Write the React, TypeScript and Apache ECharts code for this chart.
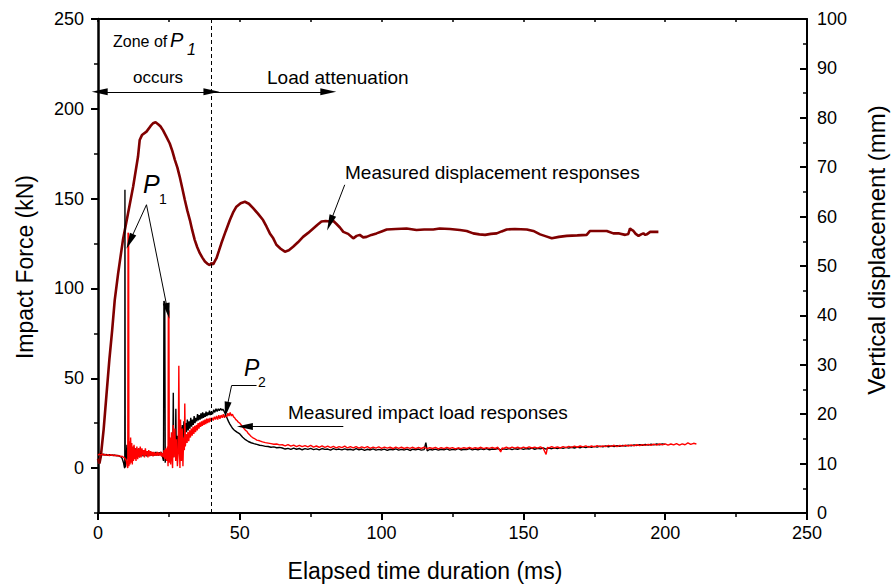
import React, { useEffect, useRef } from 'react';
import * as echarts from 'echarts';

const FONT = '"Liberation Sans", Arial, Helvetica, sans-serif';

// Axis ticks
const forceMajorTicks = [0, 50, 100, 150, 200, 250];

// Displacement (ms, mm) – right axis
const displacement: number[][] = [
  [0, 11], [0.5, 10], [1, 11.5], [2, 17], [3, 24], [4, 31], [5, 37], [5.9, 43.1], [7.1, 48.5], [8.8, 55.3],
  [10.6, 60.7], [12.4, 66.1], [14.1, 72.1], [14.7, 75.5], [15.5, 76.5], [17.1, 77.2], [18.5, 78.3], [19.4, 78.9],
  [20.3, 79.1], [21.2, 78.7], [22.0, 78.3], [22.9, 77.5], [24.0, 76.3], [25.3, 74.8], [26.2, 73.3], [27.1, 71.5],
  [28.0, 69.9], [28.8, 68.1], [29.7, 65.8], [30.6, 63.4], [31.5, 61.2], [32.4, 59.3], [33.2, 57.3], [34.1, 55.3],
  [35.0, 53.8], [35.9, 52.6], [36.8, 51.7], [37.7, 50.9], [38.5, 50.5], [39.4, 50.2], [40.0, 50.6], [40.6, 50.3],
  [41.2, 51.0], [41.8, 51.6], [42.6, 53.0], [43.5, 54.6], [45.0, 57.0], [46.5, 59.3], [47.6, 60.8], [48.8, 62.0],
  [50.3, 62.7], [51.8, 63.0], [53.2, 62.6], [54.7, 61.7], [56.4, 60.6], [58.2, 59.3], [59.4, 58.0], [60.6, 56.6],
  [61.8, 55.6], [62.9, 54.3], [64.4, 53.5], [65.9, 52.9], [67.3, 53.2], [68.8, 53.9], [70.5, 54.8], [72.3, 55.9],
  [74.1, 56.7], [75.9, 57.6], [77.3, 58.3], [78.8, 59.0], [80.3, 59.1], [81.8, 59.0], [83.0, 59.1], [84.1, 58.5],
  [85.3, 57.8], [86.5, 56.9], [88.2, 56.5], [90.0, 55.6], [91.2, 56.1], [92.3, 56.3], [93.5, 55.8], [94.7, 55.9],
  [96.4, 56.3], [98.2, 56.6], [100.0, 57.0], [101.8, 57.4], [105, 57.5], [108.8, 57.6], [112.3, 57.3], [115, 57.4],
  [118.2, 57.4], [120.5, 57.6], [124.1, 57.5], [127.6, 57.3], [130, 57.1], [132.3, 56.6], [134.5, 56.4],
  [136.5, 56.3], [138.5, 56.5], [140.6, 56.6], [142.3, 57.0], [144.1, 57.4], [147, 57.5], [151.2, 57.4],
  [153.5, 57.1], [155.9, 56.4], [158, 56.0], [160.0, 55.6], [162.5, 55.9], [165.3, 56.1], [169, 56.2],
  [172.3, 56.3], [173.5, 57.1], [176, 57.1], [179.4, 57.1], [181.7, 56.6], [183.8, 56.6], [185.9, 56.3],
  [187.0, 56.5], [187.6, 57.6], [188.2, 57.3], [188.8, 57.1], [189.6, 56.5], [190.6, 56.1], [191.5, 56.4],
  [192.3, 56.6], [193.0, 56.3], [193.5, 56.4], [194.7, 56.9], [196, 56.9], [197.6, 56.9],
];

// Impact load, test 1 (black), (ms, kN) – left axis
const forceBlackEarly: number[][] = [
  [0, 8], [0.5, 7.6], [1, 8.1], [1.5, 7.4], [2, 7.8], [2.5, 7.2], [3, 7.6], [3.5, 7.0], [4, 7.5], [4.5, 7.1],
  [5, 7.4], [5.5, 6.9], [6, 7.3], [6.5, 6.8], [7, 7.1], [7.5, 6.6], [8, 6.4], [8.5, 5.5], [9, 3], [9.3, 0.5],
  [9.45, 0], [9.5, 155], [9.6, 0.5], [9.9, 4], [10.2, 13], [10.5, 5], [10.8, 12], [11.1, 6], [11.4, 11], [11.7, 5],
  [12, 10], [12.3, 6], [12.6, 12], [12.9, 7], [13.2, 11], [13.5, 6], [13.8, 10], [14.1, 7], [14.4, 11], [14.7, 6],
  [15, 10], [15.3, 7], [15.6, 9.5], [15.9, 6.5], [16.2, 10], [16.5, 7], [16.8, 9], [17.1, 6.5], [17.4, 9.5],
  [17.7, 7], [18, 9], [18.3, 6.8], [18.6, 9.2], [18.9, 7], [19.2, 8.8], [19.5, 6.8], [19.8, 8.5], [20.1, 7],
  [20.4, 9], [20.7, 7.2], [21, 8.6], [21.3, 7], [21.6, 8.8], [21.9, 7.2], [22.2, 9], [22.5, 7], [22.8, 6],
  [23.1, 4], [23.25, 93], [23.55, 92], [23.7, 3], [24, 9], [24.3, 6], [24.6, 11], [24.9, 5], [25.2, 13], [25.5, 4],
  [25.8, 14], [26.1, 8], [26.4, 12], [26.55, 42], [26.7, 6], [27, 16], [27.3, 10], [27.45, 33], [27.6, 8],
  [27.9, 18], [28.2, 10], [28.5, 21], [28.8, 12], [29.1, 23], [29.4, 14], [29.7, 24], [30, 16], [30.3, 26],
  [30.6, 18], [30.9, 25], [31.2, 20], [31.5, 27], [31.8, 21], [32.1, 26], [32.4, 22], [32.7, 28], [33, 23],
  [33.3, 27], [33.6, 24], [33.9, 29], [34.2, 25], [34.5, 28], [34.8, 26], [35.1, 30], [35.4, 26.5], [35.7, 29.5],
  [36, 27], [36.3, 30.5], [36.6, 27.5], [36.9, 31], [37.2, 28], [37.5, 30.5], [37.8, 28.5], [38.1, 31.5],
  [38.4, 29], [38.7, 31], [39, 29.5], [39.3, 32], [39.6, 29.5], [40, 31.5], [40.4, 30], [40.8, 32.5], [41.2, 31],
  [41.6, 33], [42, 31.5], [42.4, 33], [42.8, 32], [43.2, 33.2], [43.6, 32.2], [44, 32.8], [44.4, 31.8],
  [44.8, 30.5], [45.2, 29], [45.6, 27.5], [46, 26], [46.5, 24.5], [47, 23.2], [47.5, 22], [48, 21.2],
  [48.5, 20.6], [49, 20], [50, 19], [51, 17.2], [52, 15.8], [53, 14.8], [54, 14.1], [55, 13.6], [56, 13.2],
  [57, 12.7], [58, 12.5], [59, 12.1], [60, 12.0], [61, 11.6], [62, 11.8], [63, 11.3], [64, 11.5],
];

const forceBlackLate: number[][] = [
  [65, 11.2], [66, 10.6], [67, 11.0], [68, 10.4], [69, 11.1], [70, 10.5], [71, 10.9], [72, 10.2], [73, 10.8],
  [74, 10.4], [75, 11.0], [76, 10.3], [77, 10.7], [78, 10.1], [79, 10.9], [80, 10.4], [81, 10.6], [82, 10.0],
  [83, 10.8], [84, 10.3], [85, 10.6], [86, 10.1], [87, 10.7], [88, 10.2], [89, 10.5], [90, 10.0], [91, 10.8],
  [92, 10.2], [93, 10.6], [94, 9.9], [95, 10.5], [96, 10.1], [97, 10.7], [98, 10.0], [99, 10.4], [100, 10.1],
  [101, 10.6], [102, 9.9], [103, 10.5], [104, 10.2], [105, 10.7], [106, 10.0], [107, 10.4], [108, 10.1],
  [109, 10.6], [110, 9.8], [111, 10.5], [112, 10.2], [113, 10.6], [114, 10.0], [115, 10.3], [115.6, 14.2],
  [116.1, 9.6], [117, 10.5], [118, 10.1], [119, 10.6], [120, 10.0], [121, 10.5], [122, 10.2], [123, 10.7],
  [124, 10.0], [125, 10.4], [126, 10.2], [127, 10.8], [128, 10.1], [129, 10.5], [130, 10.3], [131, 10.8],
  [132, 10.1], [133, 10.6], [134, 10.2], [135, 10.7], [136, 10.3], [137, 10.8], [138, 10.2], [139, 10.6],
  [140, 10.4], [141, 10.9], [142, 10.2], [143, 10.7], [144, 10.4], [145, 10.9], [146, 10.3], [147, 10.8],
  [148, 10.5], [149, 11.0], [150, 10.4], [151, 10.9], [152, 10.6], [153, 11.1], [154, 10.5], [155, 11.0],
  [156, 10.7], [157, 11.2], [158, 10.6], [159, 11.1], [160, 10.8], [161, 11.3], [162, 10.9], [163, 11.4],
  [164, 11.0], [165, 11.5], [166, 11.1], [167, 11.6], [168, 11.2], [169, 11.7], [170, 11.3], [171, 11.9],
  [172, 11.4], [173, 12.0], [174, 11.6], [175, 12.1], [176, 11.7], [177, 12.2], [178, 11.8], [179, 12.3],
  [180, 11.9], [181, 12.4], [182, 12.0], [183, 12.5], [184, 12.1], [185, 12.6], [186, 12.3], [187, 12.8],
  [188, 12.4], [189, 12.9], [190, 12.6], [191, 13.1], [192, 12.7], [193, 13.2], [194, 12.8], [195, 13.3],
  [196, 12.9], [197, 13.4], [198, 13.0], [199, 13.5], [200, 13.2],
];

// Impact load, test 2 (red), (ms, kN) – left axis
const forceRedEarly: number[][] = [
  [0, 7.2], [0.5, 7.9], [1, 7.3], [1.5, 8.0], [2, 7.1], [2.5, 7.7], [3, 7.0], [3.5, 7.6], [4, 6.9], [4.5, 7.5],
  [5, 7.0], [5.5, 7.4], [6, 6.8], [6.5, 7.2], [7, 6.6], [7.5, 7.0], [8, 6.4], [8.5, 6.6], [9, 6.0], [9.5, 5.5],
  [10, 4], [10.3, 1], [10.5, 0], [10.6, 131], [10.8, 130], [10.9, 1], [11.1, 15], [11.3, 2], [11.5, 17],
  [11.7, 3], [11.9, 14], [12.1, 2], [12.3, 12], [12.5, 4], [12.7, 13], [12.9, 5], [13.1, 11], [13.4, 4],
  [13.7, 12], [14, 5], [14.3, 11], [14.6, 6], [14.9, 12], [15.2, 6], [15.5, 11], [15.8, 7], [16.1, 10],
  [16.4, 6], [16.7, 11], [17, 7], [17.3, 9.5], [17.6, 6], [17.9, 10], [18.2, 6.5], [18.5, 9.5], [18.8, 7],
  [19.1, 9], [19.4, 6.5], [19.7, 9], [20, 7], [20.3, 8.5], [20.6, 6.8], [20.9, 9], [21.2, 7], [21.5, 8.5],
  [21.8, 7], [22.1, 9], [22.4, 6.5], [22.7, 8.5], [23, 6], [23.3, 10], [23.6, 5], [23.9, 11], [24.2, 4],
  [24.5, 12], [24.7, 1], [24.8, 88], [25, 87], [25.15, 3], [25.4, 17], [25.6, 2], [25.9, 20], [26.1, 5],
  [26.3, 0], [26.5, 24], [26.8, 6], [27.1, 22], [27.4, 4], [27.7, 16], [28, 1], [28.3, 9], [28.5, 57],
  [28.7, 12], [28.9, 0], [29.1, 27], [29.4, 4], [29.7, 22], [29.95, 1], [30.2, 17], [30.45, 10], [30.6, 36],
  [30.8, 12], [31.1, 19], [31.4, 14], [31.7, 20], [32, 15], [32.3, 21], [32.6, 17], [32.9, 22], [33.2, 18],
  [33.5, 23], [33.8, 19], [34.1, 23.5], [34.4, 20], [34.7, 24], [35, 21], [35.3, 25], [35.6, 22], [35.9, 25.5],
  [36.2, 23], [36.5, 26], [36.8, 23.5], [37.1, 26.5], [37.4, 24], [37.7, 27], [38, 24.5], [38.3, 27.5],
  [38.6, 25], [38.9, 27.5], [39.2, 25.5], [39.5, 28], [39.8, 26], [40.2, 28], [40.6, 26.5], [41, 28.5],
  [41.4, 27], [41.8, 29], [42.2, 27], [42.6, 29.5], [43, 27.5], [43.4, 29.5], [43.8, 28], [44.2, 30],
  [44.6, 28], [45, 29.5], [45.4, 28.5], [45.8, 30.5], [46.2, 29], [46.6, 31], [47, 29], [47.4, 30],
  [47.8, 28.5], [48.2, 28], [48.6, 27], [49, 26.5], [49.5, 25.5], [50, 25], [50.5, 24], [51, 23], [51.5, 22],
  [52, 21], [52.5, 20.5], [53, 19.2], [53.5, 18.5], [54, 17.6], [54.5, 17], [55, 16.6], [56, 15.6], [57, 15.2],
  [58, 14.6], [59, 14.2], [60, 13.9], [61, 13.6], [62, 13.3], [63, 13.4], [64, 12.9],
];

const forceRedLate: number[][] = [
  [65, 13.0], [66, 12.4], [67, 13.1], [68, 12.2], [69, 12.8], [70, 12.0], [71, 12.7], [72, 11.9], [73, 12.5],
  [74, 11.8], [75, 12.6], [76, 11.7], [77, 12.3], [78, 11.6], [79, 12.4], [80, 11.5], [81, 12.2], [82, 11.4],
  [83, 12.1], [84, 11.3], [85, 12.0], [86, 11.4], [87, 12.2], [88, 11.2], [89, 11.9], [90, 11.3], [91, 12.0],
  [92, 11.1], [93, 11.8], [94, 11.2], [95, 11.9], [96, 11.0], [97, 11.7], [98, 11.1], [99, 11.8], [100, 11.0],
  [101, 11.7], [102, 11.1], [103, 11.6], [104, 10.9], [105, 11.7], [106, 11.0], [107, 11.6], [108, 10.9],
  [109, 11.5], [110, 11.0], [111, 11.6], [112, 10.8], [113, 11.5], [114, 10.9], [115, 11.6], [116, 10.8],
  [117, 11.4], [118, 10.9], [119, 11.5], [120, 10.7], [121, 11.4], [122, 10.8], [123, 11.5], [124, 10.9],
  [125, 11.4], [126, 10.7], [127, 11.3], [128, 10.8], [129, 11.4], [130, 10.9], [131, 11.5], [132, 10.8],
  [133, 11.4], [134, 10.9], [135, 11.6], [136, 10.8], [137, 11.4], [138, 11.0], [139, 11.5], [140, 10.9],
  [141, 11.6], [142, 9.0], [142.5, 11.2], [143, 10.9], [144, 11.6], [145, 11.0], [146, 11.7], [147, 11.1],
  [148, 11.6], [149, 11.0], [150, 11.7], [151, 11.1], [152, 11.8], [153, 11.2], [154, 11.7], [155, 11.1],
  [156, 11.8], [157, 11.0], [158, 7.6], [158.5, 11.6], [159, 11.2], [160, 11.9], [161, 11.3], [162, 11.8],
  [163, 11.2], [164, 12.0], [165, 11.4], [166, 12.1], [167, 11.5], [168, 12.2], [169, 11.6], [170, 12.3],
  [171, 11.8], [172, 12.4], [173, 11.7], [174, 12.3], [175, 11.8], [176, 12.5], [177, 11.9], [178, 12.4],
  [179, 12.0], [180, 12.6], [181, 12.1], [182, 12.7], [183, 12.0], [184, 12.6], [185, 12.2], [186, 12.8],
  [187, 12.3], [188, 12.9], [189, 12.4], [190, 13.0], [191, 12.5], [192, 13.1], [193, 12.6], [194, 13.2],
  [195, 12.7], [196, 13.3], [197, 12.8], [198, 13.4], [199, 12.9], [200, 13.5], [201, 12.8], [202, 13.4],
  [203, 12.9], [204, 13.6], [205, 12.8], [206, 13.5], [207, 13.0], [208, 14.0], [209, 13.2], [210, 13.8],
  [211, 13.4],
];

// Annotation positions in data units (ms, kN)
const zoneBoundary = 40;
const zoneArrowLevel = 209.5;
const zoneStart = 0.6;
const attenuationEnd = 81.2;

const ARROW = [7, 16];

const tx = (text: string, x: number, y: number, size: number, extra: any = {}) => ({
  type: 'text',
  x,
  y,
  silent: true,
  style: {
    text,
    fill: '#000',
    fontSize: size,
    fontFamily: FONT,
    align: extra.align || 'left',
    verticalAlign: 'middle',
    fontStyle: extra.italic ? 'italic' : 'normal',
  },
  rotation: extra.rotation || 0,
});

export default function App() {
  const ref = useRef<HTMLDivElement>(null);

  useEffect(() => {
    if (!ref.current) return;
    const chart = echarts.init(ref.current, null, { renderer: 'svg' });
    const solid = { type: 'solid', color: '#000', width: 1 };
    const seg = (a: number[], b: number[], s1: string, s2: string) => [
      { coord: a, symbol: s1, symbolSize: ARROW, lineStyle: solid },
      { coord: b, symbol: s2, symbolSize: ARROW },
    ];
    const option: any = {
      animation: false,
      backgroundColor: '#fff',
      textStyle: { fontFamily: FONT },
      grid: { left: 98, right: 86, top: 19, bottom: 75, containLabel: false },
      xAxis: [
        {
          type: 'value', min: 0, max: 250, interval: 50, position: 'bottom',
          axisLine: { show: true, onZero: false, lineStyle: { color: '#000', width: 2 } },
          axisTick: { show: true, inside: false, length: 7, lineStyle: { color: '#000', width: 2 } },
          minorTick: { show: true, splitNumber: 2, length: 4, lineStyle: { color: '#000', width: 1.5 } },
          axisLabel: { fontSize: 18, color: '#000', margin: 11, fontFamily: FONT },
          splitLine: { show: false },
        },
        {
          type: 'value', min: 0, max: 250, interval: 25, position: 'top',
          axisLine: { show: true, onZero: false, lineStyle: { color: '#000', width: 2 } },
          axisTick: { show: true, inside: true, length: 3, lineStyle: { color: '#000', width: 1.5 } },
          axisLabel: { show: false },
          splitLine: { show: false },
        },
      ],
      yAxis: [
        {
          type: 'value', min: -25, max: 250, position: 'left',
          axisLine: { show: true, onZero: false, lineStyle: { color: '#000', width: 2.5 } },
          axisTick: { show: true, inside: false, length: 7, customValues: forceMajorTicks, lineStyle: { color: '#000', width: 2 } },
          axisLabel: { fontSize: 18, color: '#000', margin: 14, customValues: forceMajorTicks, fontFamily: FONT },
          splitLine: { show: false },
        },
        {
          type: 'value', min: 0, max: 100, interval: 10, position: 'right',
          axisLine: { show: true, onZero: false, lineStyle: { color: '#000', width: 2 } },
          axisTick: { show: true, inside: true, length: 7, lineStyle: { color: '#000', width: 2 } },
          minorTick: { show: true, splitNumber: 2, length: 4, lineStyle: { color: '#000', width: 1.5 } },
          axisLabel: { fontSize: 18, color: '#000', margin: 10, fontFamily: FONT },
          splitLine: { show: false },
        },
        {
          type: 'value', min: -25, max: 250, interval: 25, position: 'left',
          axisLine: { show: false },
          axisTick: { show: true, inside: false, length: 4, lineStyle: { color: '#000', width: 1.5 } },
          axisLabel: { show: false },
          splitLine: { show: false },
        },
      ],
      series: [
        {
          name: 'Measured displacement responses', type: 'line', xAxisIndex: 0, yAxisIndex: 1,
          data: displacement, showSymbol: false, symbol: 'none',
          lineStyle: { color: '#800000', width: 2.6 }, z: 2,
        },
        {
          name: 'Impact load (test 1)', type: 'line', xAxisIndex: 0, yAxisIndex: 0,
          data: [...forceBlackEarly, ...forceBlackLate], showSymbol: false, symbol: 'none',
          lineStyle: { color: '#000', width: 1.4 }, z: 3,
        },
        {
          name: 'Impact load (test 2)', type: 'line', xAxisIndex: 0, yAxisIndex: 0,
          data: [...forceRedEarly, ...forceRedLate], showSymbol: false, symbol: 'none',
          lineStyle: { color: '#ff0000', width: 1.4 }, z: 4,
        },
        {
          name: 'annotations', type: 'line', xAxisIndex: 0, yAxisIndex: 0, data: [], z: 5,
          markLine: {
            silent: true,
            animation: false,
            symbol: ['none', 'none'],
            label: { show: false },
            lineStyle: { color: '#000', width: 1, type: 'solid' },
            itemStyle: { color: '#000' },
            data: [
              [
                { coord: [zoneBoundary, -25], symbol: 'none', lineStyle: { type: [4, 3], color: '#000', width: 1 } },
                { coord: [zoneBoundary, 250], symbol: 'none' },
              ],
              seg([zoneStart, zoneArrowLevel], [zoneBoundary, zoneArrowLevel], 'triangle', 'triangle'),
              seg([zoneBoundary, zoneArrowLevel], [attenuationEnd, zoneArrowLevel], 'none', 'triangle'),
              seg([17.1, 146.6], [11.2, 126.2], 'none', 'triangle'),
              seg([17.1, 146.6], [24.6, 87.5], 'none', 'triangle'),
              seg([87.0, 157.7], [81.8, 136.4], 'none', 'triangle'),
              seg([55.9, 45.9], [47.1, 45.9], 'none', 'none'),
              seg([47.1, 45.9], [45.3, 32.5], 'none', 'triangle'),
              seg([86.5, 23.2], [51.8, 23.2], 'none', 'triangle'),
            ],
          },
        },
      ],
      graphic: [
        tx('Zone of', 113, 41, 16),
        tx('P', 170, 40, 20, { italic: true }),
        tx('1', 187, 49, 16, { italic: true }),
        tx('occurs', 158, 77, 17, { align: 'center' }),
        tx('Load attenuation', 267, 77, 19),
        tx('P', 143, 184, 25, { italic: true }),
        tx('1', 159, 199, 14),
        tx('Measured displacement responses', 345, 172, 19),
        tx('P', 244, 368, 23, { italic: true }),
        tx('2', 258, 382, 14),
        tx('Measured impact load responses', 288, 412, 19),
        tx('Elapsed time duration (ms)', 425, 571, 23, { align: 'center' }),
        tx('Impact Force (kN)', 25, 267, 23, { align: 'center', rotation: Math.PI / 2 }),
        tx('Vertical displacement (mm)', 876, 250, 24, { align: 'center', rotation: Math.PI / 2 }),
      ],
    };
    chart.setOption(option);
    return () => chart.dispose();
  }, []);

  return (
    <div
      ref={ref}
      style={{ position: 'absolute', left: 0, top: 0, width: 893, height: 588, background: '#fff' }}
    />
  );
}
